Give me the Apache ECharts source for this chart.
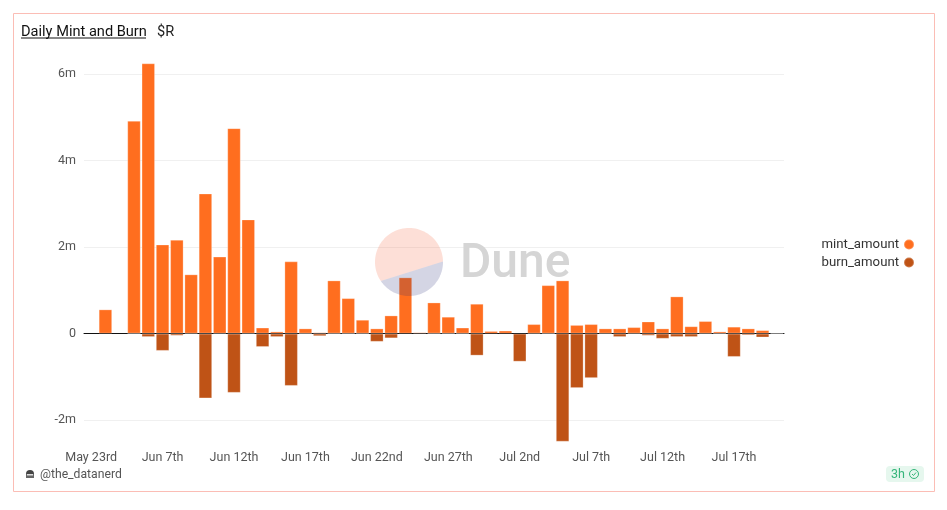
<!DOCTYPE html>
<html>
<head>
<meta charset="utf-8">
<title>Daily Mint and Burn</title>
<script src="https://cdn.jsdelivr.net/npm/echarts@6/dist/echarts.min.js"></script>
<style>
  html, body { margin: 0; padding: 0; background: #fff; }
  #chart { width: 947px; height: 510px; }
</style>
</head>
<body>
<div id="chart"></div>
<script>
var FONT = 'Roboto, "Noto Sans", sans-serif';

var days = [
  'May 23rd', 'May 30th', 'Jun 4th', 'Jun 5th', 'Jun 6th', 'Jun 7th', 'Jun 8th',
  'Jun 9th', 'Jun 10th', 'Jun 11th', 'Jun 12th', 'Jun 13th', 'Jun 14th', 'Jun 15th',
  'Jun 16th', 'Jun 17th', 'Jun 18th', 'Jun 19th', 'Jun 20th', 'Jun 21st', 'Jun 22nd',
  'Jun 23rd', 'Jun 24th', 'Jun 25th', 'Jun 26th', 'Jun 27th', 'Jun 28th', 'Jun 29th',
  'Jun 30th', 'Jul 1st', 'Jul 2nd', 'Jul 3rd', 'Jul 4th', 'Jul 5th', 'Jul 6th',
  'Jul 7th', 'Jul 8th', 'Jul 9th', 'Jul 10th', 'Jul 11th', 'Jul 12th', 'Jul 13th',
  'Jul 14th', 'Jul 15th', 'Jul 16th', 'Jul 17th', 'Jul 18th', 'Jul 19th', 'Jul 20th'
];

// both in millions, null = nothing that day
var mintAmount = [
  null, 0.56, null, 4.92, 6.25, 2.06, 2.17, 1.37, 3.24, 1.78, 4.75, 2.64, 0.14, 0.05,
  1.67, 0.12, 0.03, 1.23, 0.82, 0.32, 0.12, 0.42, 1.30, 0.03, 0.72, 0.39, 0.14,
  0.69, 0.06, 0.07, null, 0.22, 1.12, 1.23, 0.20, 0.22, 0.12, 0.12, 0.15, 0.28, 0.12,
  0.86, 0.17, 0.29, 0.05, 0.16, 0.12, 0.08, 0.02
];
var burnAmount = [
  null, null, null, -0.01, -0.08, -0.40, -0.05, -0.02, -1.50, -0.02, -1.37, -0.02, -0.31, -0.08,
  -1.21, -0.01, -0.06, -0.01, -0.01, -0.01, -0.19, -0.11, null, null, -0.01, -0.01, -0.01,
  -0.51, null, null, -0.65, -0.02, -0.01, -2.50, -1.26, -1.03, -0.02, -0.08, -0.02, -0.05, -0.12,
  -0.08, -0.08, -0.02, -0.01, -0.54, -0.04, -0.09, -0.02
];
var yTicks = [-2, 0, 2, 4, 6];

// points of a circle arc for the watermark logo, angles in degrees
function arcPoints(cx, cy, r, from, to) {
  var pts = [];
  for (var i = 0; i <= 60; i++) {
    var a = (from + (to - from) * i / 60) * Math.PI / 180;
    pts.push([cx + r * Math.cos(a), cy + r * Math.sin(a)]);
  }
  return pts;
}

var chart = echarts.init(document.getElementById('chart'));

var barEdge = { borderColor: 'rgba(255,255,255,0.25)', borderWidth: 1 };

var option = {
  animation: false,
  textStyle: { fontFamily: FONT },
  color: ['#FF6E1F', '#BF5316'],
  grid: { left: 84, right: 163, top: 63.3, height: 378.4 },
  legend: {
    orient: 'vertical',
    right: 27,
    top: 233,
    align: 'right',
    icon: 'circle',
    itemWidth: 10,
    itemHeight: 10,
    itemGap: 5,
    textStyle: { fontSize: 13.2, color: '#333', fontFamily: FONT },
    data: ['mint_amount', 'burn_amount']
  },
  xAxis: [{
    type: 'category',
    data: days,
    axisLine: { show: false, onZero: false },
    axisTick: { show: false },
    axisLabel: { interval: 4, margin: 10, fontSize: 12.5, color: '#555', hideOverlap: false }
  }, {
    // zero line only
    type: 'category',
    data: days,
    position: 'bottom',
    axisLine: { show: true, onZero: true, lineStyle: { color: '#111', width: 1 } },
    axisTick: { show: false },
    axisLabel: { show: false }
  }],
  yAxis: {
    type: 'value',
    min: -2.5,
    max: 6.25,
    axisLine: { show: false },
    axisTick: { show: false, customValues: yTicks },
    axisLabel: {
      margin: 8,
      fontSize: 12.5,
      color: '#555',
      customValues: yTicks,
      formatter: function (v) { return v === 0 ? '0' : v + 'm'; }
    },
    splitLine: { lineStyle: { color: '#f0f0f0', width: 1 } }
  },
  series: [{
    name: 'mint_amount',
    type: 'bar',
    stack: 'total',
    barWidth: 13.5,
    itemStyle: barEdge,
    data: mintAmount
  }, {
    name: 'burn_amount',
    type: 'bar',
    stack: 'total',
    barWidth: 13.5,
    itemStyle: barEdge,
    data: burnAmount
  }],
  graphic: [
    // card frame
    { type: 'rect', z: -1, shape: { x: 13.5, y: 13.5, width: 921, height: 478 },
      style: { fill: 'none', stroke: '#FBBDB5', lineWidth: 1 } },
    // title
    { type: 'text', x: 21, y: 25, style: { text: 'Daily Mint and Burn', font: '400 14.6px ' + FONT, fill: '#111' } },
    { type: 'rect', shape: { x: 21, y: 37.5, width: 125, height: 1 }, style: { fill: '#111' } },
    { type: 'text', x: 157, y: 25, style: { text: '$R', font: '14.6px ' + FONT, fill: '#222' } },
    // watermark
    { type: 'polygon', z: 50, silent: true,
      shape: { points: arcPoints(409, 262, 34, 146, 359) },
      style: { fill: 'rgba(244,96,54,0.2)' } },
    { type: 'polygon', z: 50, silent: true,
      shape: { points: arcPoints(409, 262, 34, 146, -1) },
      style: { fill: 'rgba(42,44,120,0.2)' } },
    { type: 'text', z: 50, silent: true, x: 460, y: 241,
      style: { text: 'Dune', font: '500 48px ' + FONT, fill: '#d5d5d5' } },
    // footer
    { type: 'sector', shape: { cx: 30, cy: 474, r: 4, startAngle: Math.PI, endAngle: 2 * Math.PI }, style: { fill: '#444' } },
    { type: 'rect', shape: { x: 26, y: 474, width: 8, height: 4 }, style: { fill: '#666' } },
    { type: 'rect', shape: { x: 27, y: 474, width: 6, height: 1.5 }, style: { fill: '#ddd' } },
    { type: 'text', x: 40, y: 469, style: { text: '@the_datanerd', font: '12.2px ' + FONT, fill: '#555' } },
    // freshness badge
    { type: 'rect', shape: { x: 886, y: 466, width: 38, height: 16, r: 4 }, style: { fill: '#E6F7EE' } },
    { type: 'text', x: 891, y: 468, style: { text: '3h', font: '12.5px ' + FONT, fill: '#35B57A' } },
    { type: 'circle', shape: { cx: 914, cy: 474, r: 4.5 }, style: { fill: 'none', stroke: '#35B57A', lineWidth: 1 } },
    { type: 'polyline', shape: { points: [[912, 474], [913.5, 475.5], [916, 472.5]] },
      style: { fill: 'none', stroke: '#35B57A', lineWidth: 1 } }
  ]
};

chart.setOption(option);
</script>
</body>
</html>
